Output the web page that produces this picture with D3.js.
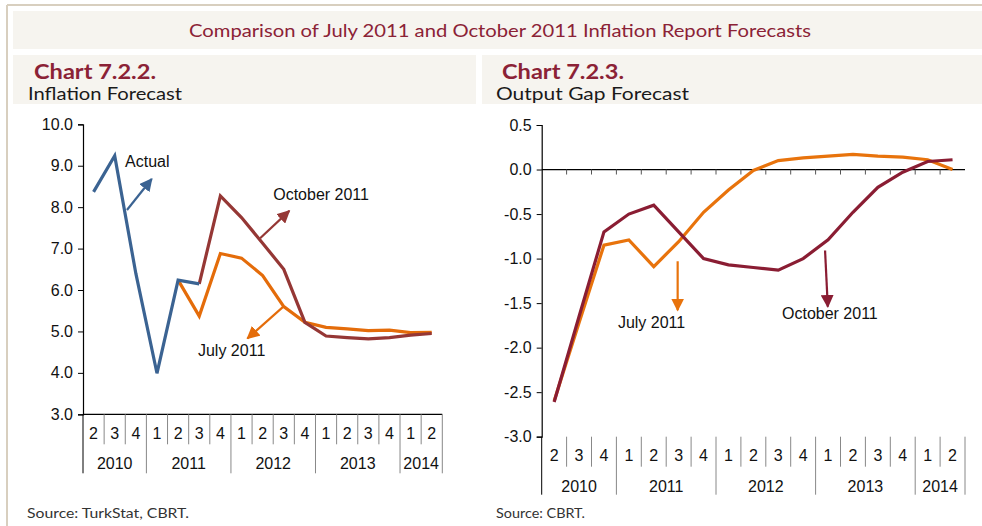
<!DOCTYPE html>
<html>
<head>
<meta charset="utf-8">
<script src="https://cdn.jsdelivr.net/npm/d3@7"></script>
<style>
  body { margin: 0; background: #fff; }
  text { font-family: "Liberation Sans", Arial, sans-serif; }
  text.deco { font-family: Lato, "Open Sans", sans-serif; }
</style>
</head>
<body>
<svg id="chart" width="982" height="526"></svg>
<script>
// quarters shown on both charts
var quarters = ["2","3","4","1","2","3","4","1","2","3","4","1","2","3","4","1","2"];
var years = ["2010","2011","2012","2013","2014"];
var yearSpan = [3, 4, 4, 4, 2];

// chart 7.2.2 inflation (%)
var inflActual = [8.37, 9.24, 6.40, 3.99, 6.24, 6.15, null, null, null, null, null, null, null, null, null, null, null];
var inflJuly   = [null, null, null, null, 6.24, 5.37, 6.88, 6.77, 6.35, 5.60, 5.22, 5.10, 5.06, 5.02, 5.03, 4.97, 4.98];
var inflOct    = [null, null, null, null, null, 6.15, 8.27, 7.75, 7.13, 6.50, 5.22, 4.89, 4.85, 4.82, 4.85, 4.91, 4.95];
var inflTicks  = [3, 4, 5, 6, 7, 8, 9, 10];

// chart 7.2.3 output gap
var gapJuly = [-2.60, -1.72, -0.85, -0.79, -1.09, -0.81, -0.48, -0.23, -0.01, 0.10, 0.13, 0.15, 0.17, 0.15, 0.14, 0.11, 0.00];
var gapOct  = [-2.61, -1.65, -0.70, -0.50, -0.40, -0.70, -1.00, -1.07, -1.10, -1.13, -1.00, -0.79, -0.48, -0.20, -0.03, 0.09, 0.11];
var gapTicks = [-3, -2.5, -2, -1.5, -1, -0.5, 0, 0.5];

// annotations in data units: [category index, value]
var inflNotes = [
  {text: "Actual", color: "#3b6392", from: [1.58, 7.93], to: [2.75, 8.68], at: [1.49, 8.97]},
  {text: "October 2011", color: "#953735", from: [7.88, 7.25], to: [9.26, 7.91], at: [8.5, 8.17]},
  {text: "July 2011", color: "#e46c0a", from: [8.98, 5.6], to: [7.28, 4.83], at: [4.94, 4.41]}
];
var gapNotes = [
  {text: "July  2011", color: "#e8730c", from: [4.96, -1.03], to: [4.96, -1.58], at: [2.56, -1.78]},
  {text: "October 2011", color: "#8a1d33", from: [10.88, -0.91], to: [10.99, -1.54], at: [9.15, -1.68]}
];

var svg = d3.select("#chart");
var maroon = "#8b2236";

// page frame and header panels
svg.append("line").attr("x1", 7).attr("y1", 5).attr("x2", 982).attr("y2", 5)
  .attr("stroke", "#d8cfbf").attr("stroke-width", 2);
svg.append("line").attr("x1", 7).attr("y1", 5).attr("x2", 7).attr("y2", 526)
  .attr("stroke", "#d8cfbf").attr("stroke-width", 2);
svg.append("rect").attr("x", 13).attr("y", 11).attr("width", 969).attr("height", 38).attr("fill", "#f6f4ef");
svg.append("rect").attr("x", 13).attr("y", 55).attr("width", 463).attr("height", 49).attr("fill", "#f6f4ef");
svg.append("rect").attr("x", 482).attr("y", 55).attr("width", 500).attr("height", 49).attr("fill", "#f6f4ef");

svg.append("text").attr("class", "deco").attr("x", 500).attr("y", 37)
  .attr("text-anchor", "middle").attr("font-size", 18).attr("fill", maroon)
  .attr("textLength", 622).attr("lengthAdjust", "spacingAndGlyphs")
  .text("Comparison of July 2011 and October 2011 Inflation Report Forecasts");

function heading(x, title, sub, subLen) {
  svg.append("text").attr("class", "deco").attr("x", x + 6).attr("y", 79)
    .attr("font-size", 20).attr("font-weight", "bold").attr("fill", maroon)
    .attr("textLength", 122).attr("lengthAdjust", "spacingAndGlyphs").text(title);
  svg.append("text").attr("class", "deco").attr("x", x).attr("y", 100)
    .attr("font-size", 18).attr("fill", "#1a1a1a")
    .attr("textLength", subLen).attr("lengthAdjust", "spacingAndGlyphs").text(sub);
}
heading(28, "Chart 7.2.2.", "Inflation Forecast", 154);
heading(496, "Chart 7.2.3.", "Output Gap Forecast", 193);

svg.append("text").attr("class", "deco").attr("x", 27).attr("y", 518)
  .attr("font-size", 12.5).attr("fill", "#333").attr("textLength", 162)
  .attr("lengthAdjust", "spacingAndGlyphs").text("Source: TurkStat, CBRT.");
svg.append("text").attr("class", "deco").attr("x", 496).attr("y", 518)
  .attr("font-size", 12.5).attr("fill", "#333").attr("textLength", 89)
  .attr("lengthAdjust", "spacingAndGlyphs").text("Source: CBRT.");

// arrowheads
var defs = svg.append("defs");
function arrowId(color) { return "ah" + color.replace("#", ""); }
inflNotes.concat(gapNotes).forEach(function(n) {
  defs.append("marker").attr("id", arrowId(n.color))
    .attr("viewBox", "0 0 10 10").attr("refX", 9).attr("refY", 5)
    .attr("markerUnits", "userSpaceOnUse").attr("markerWidth", 13).attr("markerHeight", 13)
    .attr("orient", "auto")
    .append("path").attr("d", "M0,0L10,5L0,10Z").attr("fill", n.color);
});

var fmt = function(d) { return d3.format(".1f")(d).replace("\u2212", "-"); };

function panel(opt) {
  var x = d3.scaleBand().domain(d3.range(quarters.length)).range(opt.xRange);
  var y = d3.scaleLinear().domain(opt.yDomain).range(opt.yRange);
  var bw = x.bandwidth();
  var xAt = function(i) { return opt.xRange[0] + (i + 0.5) * bw; };
  var g = svg.append("g");
  var bottom = opt.yRange[0];

  // y axis
  var ya = g.append("g").attr("transform", "translate(" + opt.xRange[0] + ",0)")
    .call(d3.axisLeft(y).tickValues(opt.ticks).tickFormat(fmt).tickSize(5).tickPadding(5));
  ya.attr("font-family", null);
  ya.select(".domain").attr("stroke", "#000").attr("stroke-width", 1.2);
  ya.selectAll(".tick line").attr("stroke", "#000");
  ya.selectAll(".tick text").attr("font-size", 16).attr("fill", "#111");

  // category axis (zero line or bottom)
  var axisY = y(opt.baseValue);
  var xa = g.append("g").attr("transform", "translate(0," + axisY + ")")
    .call(d3.axisBottom(x).tickValues(d3.range(1, quarters.length)).tickFormat("")
      .tickSize(opt.axisTick).tickSizeOuter(0).offset(0));
  xa.selectAll(".tick").attr("transform", function(d) { return "translate(" + x(d) + ",0)"; });
  xa.select(".domain").attr("stroke", "#000").attr("stroke-width", 1.2)
    .attr("d", "M" + opt.xRange[0] + ",0H" + opt.xRange[1]);
  xa.selectAll(".tick line").attr("stroke", "#555");

  // label table under the plot
  var yearStart = [0];
  yearSpan.forEach(function(s, k) { yearStart.push(yearStart[k] + s); });
  var lab = g.append("g");
  lab.selectAll("line.q").data(d3.range(1, quarters.length).filter(function(i) { return yearStart.indexOf(i) < 0; }))
    .join("line").attr("x1", function(i) { return x(i); }).attr("x2", function(i) { return x(i); })
    .attr("y1", bottom).attr("y2", bottom + opt.qH).attr("stroke", "#888");
  lab.selectAll("line.yr").data(yearStart)
    .join("line").attr("x1", function(i) { return i === 0 ? opt.xRange[0] : x(i) || opt.xRange[1]; })
    .attr("x2", function(i) { return i === 0 ? opt.xRange[0] : x(i) || opt.xRange[1]; })
    .attr("y1", bottom).attr("y2", bottom + opt.yH)
    .attr("stroke", function(i) { return i === 0 ? "#000" : "#888"; });
  lab.selectAll("text.q").data(quarters).join("text")
    .attr("x", function(d, i) { return xAt(i); }).attr("y", bottom + opt.qLab)
    .attr("text-anchor", "middle").attr("font-size", 16).attr("fill", "#111").text(function(d) { return d; });
  lab.selectAll("text.y").data(years).join("text")
    .attr("x", function(d, k) { return xAt(yearStart[k] + yearSpan[k] / 2 - 0.5); })
    .attr("y", bottom + opt.yLab)
    .attr("text-anchor", "middle").attr("font-size", 16).attr("fill", "#111").text(function(d) { return d; });

  // series
  var line = d3.line().defined(function(d) { return d != null; })
    .x(function(d, i) { return xAt(i); }).y(function(d) { return y(d); });
  opt.series.forEach(function(s) {
    g.append("path").datum(s.values).attr("d", line).attr("fill", "none")
      .attr("stroke", s.color).attr("stroke-width", 3.2).attr("stroke-linejoin", "miter");
  });

  // annotations
  opt.notes.forEach(function(n) {
    g.append("line").attr("x1", xAt(n.from[0])).attr("y1", y(n.from[1]))
      .attr("x2", xAt(n.to[0])).attr("y2", y(n.to[1]))
      .attr("stroke", n.color).attr("stroke-width", 2.2)
      .attr("marker-end", "url(#" + arrowId(n.color) + ")");
    g.append("text").attr("x", xAt(n.at[0])).attr("y", y(n.at[1]))
      .attr("font-size", 16).attr("fill", "#111").text(n.text);
  });
}

panel({
  xRange: [83, 442.3], yDomain: [3, 10], yRange: [414.3, 124.3], ticks: inflTicks,
  baseValue: 3, axisTick: 0, qH: 30, yH: 59, qLab: 25, yLab: 55,
  series: [
    {values: inflJuly, color: "#e46c0a"},
    {values: inflOct, color: "#953735"},
    {values: inflActual, color: "#3b6392"}
  ],
  notes: inflNotes
});

panel({
  xRange: [541.7, 965], yDomain: [-3, 0.5], yRange: [436.7, 125], ticks: gapTicks,
  baseValue: 0, axisTick: 5, qH: 30, yH: 58, qLab: 24, yLab: 55,
  series: [
    {values: gapJuly, color: "#e8730c"},
    {values: gapOct, color: "#8a1d33"}
  ],
  notes: gapNotes
});
</script>
</body>
</html>
